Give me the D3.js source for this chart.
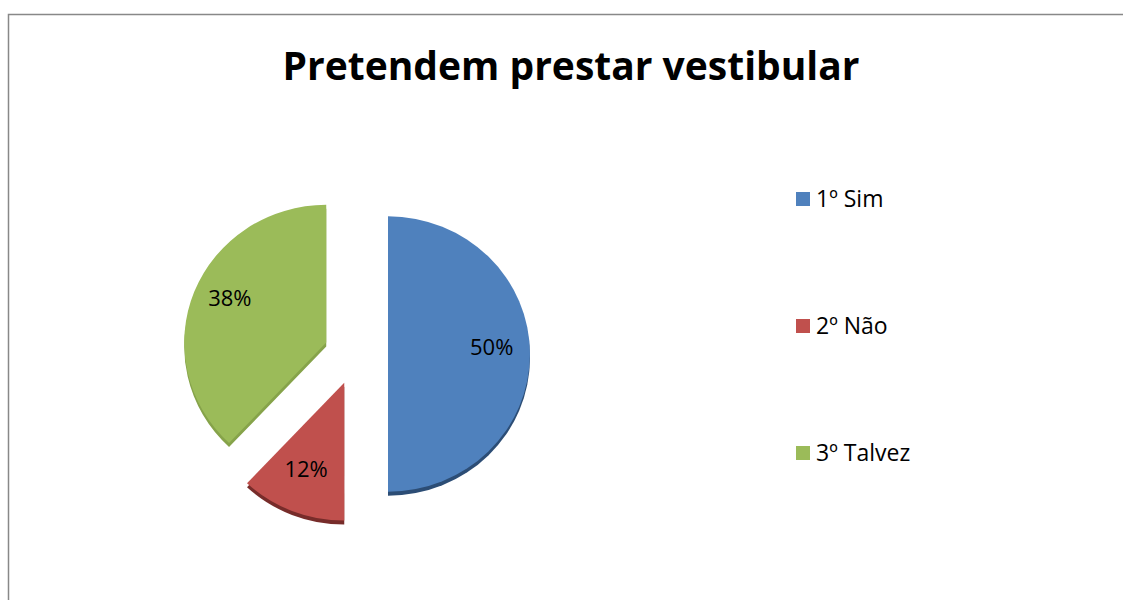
<!DOCTYPE html>
<meta charset="utf-8">
<style>
body { margin: 0; background: #fff; }
text { font-family: "Open Sans", "Noto Sans", sans-serif; }
</style>
<body>
<script src="https://cdn.jsdelivr.net/npm/d3@7"></script>
<script>

var width = 1123,
    height = 600;

var title = "Pretendem prestar vestibular";
var categories = ["1º Sim", "2º Não", "3º Talvez"];
var values = [50, 12, 38];
var colors = ["#4f81bd", "#c0504d", "#9bbb59"];
var sideColors = ["#2c4d75", "#772c2a", "#86a34a"];

var cx = 356, cy = 354,
    radius = 142,
    explode = 32,
    depth = 4,
    tilt = 0.97;

var svg = d3.select("body").append("svg")
    .attr("width", width)
    .attr("height", height);

// chart frame (runs past the right and bottom edges)
svg.append("rect")
    .attr("x", 8.5)
    .attr("y", 14.5)
    .attr("width", 1200)
    .attr("height", 700)
    .attr("fill", "none")
    .attr("stroke", "#888")
    .attr("stroke-width", 1.5);

svg.append("text")
    .attr("x", 571)
    .attr("y", 80)
    .attr("text-anchor", "middle")
    .attr("font-size", 39)
    .attr("font-weight", "bold")
    .attr("fill", "#000")
    .text(title);

var pie = d3.pie().sort(null).value(function(d) { return d; });
var arcs = pie(values);

var arc = d3.arc().innerRadius(0).outerRadius(radius);
var labelArc = d3.arc().innerRadius(radius * 0.73).outerRadius(radius * 0.73);

function offset(d) {
  var a = (d.startAngle + d.endAngle) / 2;
  return [cx + Math.sin(a) * explode, cy - Math.cos(a) * explode * tilt];
}

var slices = svg.selectAll("g.slice")
    .data(arcs)
  .enter().append("g")
    .attr("class", "slice")
    .attr("transform", function(d) {
      var o = offset(d);
      return "translate(" + o + ")";
    });

slices.append("path")
    .attr("d", arc)
    .attr("transform", "translate(0," + depth + ") scale(1," + tilt + ")")
    .attr("fill", function(d, i) { return sideColors[i]; });

slices.append("path")
    .attr("d", arc)
    .attr("transform", "scale(1," + tilt + ")")
    .attr("fill", function(d, i) { return colors[i]; });

slices.append("text")
    .attr("transform", function(d) {
      var c = labelArc.centroid(d);
      return "translate(" + c[0] + "," + (c[1] * tilt - 7) + ")";
    })
    .attr("text-anchor", "middle")
    .attr("dy", "0.35em")
    .attr("font-size", 22)
    .attr("fill", "#000")
    .text(function(d) { return d.value + "%"; });

var legend = svg.selectAll("g.legend")
    .data(categories)
  .enter().append("g")
    .attr("class", "legend")
    .attr("transform", function(d, i) { return "translate(796," + (199 + i * 127) + ")"; });

legend.append("rect")
    .attr("x", 0)
    .attr("y", -7)
    .attr("width", 14)
    .attr("height", 14)
    .attr("fill", function(d, i) { return colors[i]; });

legend.append("text")
    .attr("x", 20)
    .attr("dy", "0.35em")
    .attr("font-size", 23)
    .attr("fill", "#000")
    .text(function(d) { return d; });

</script>
</body>
